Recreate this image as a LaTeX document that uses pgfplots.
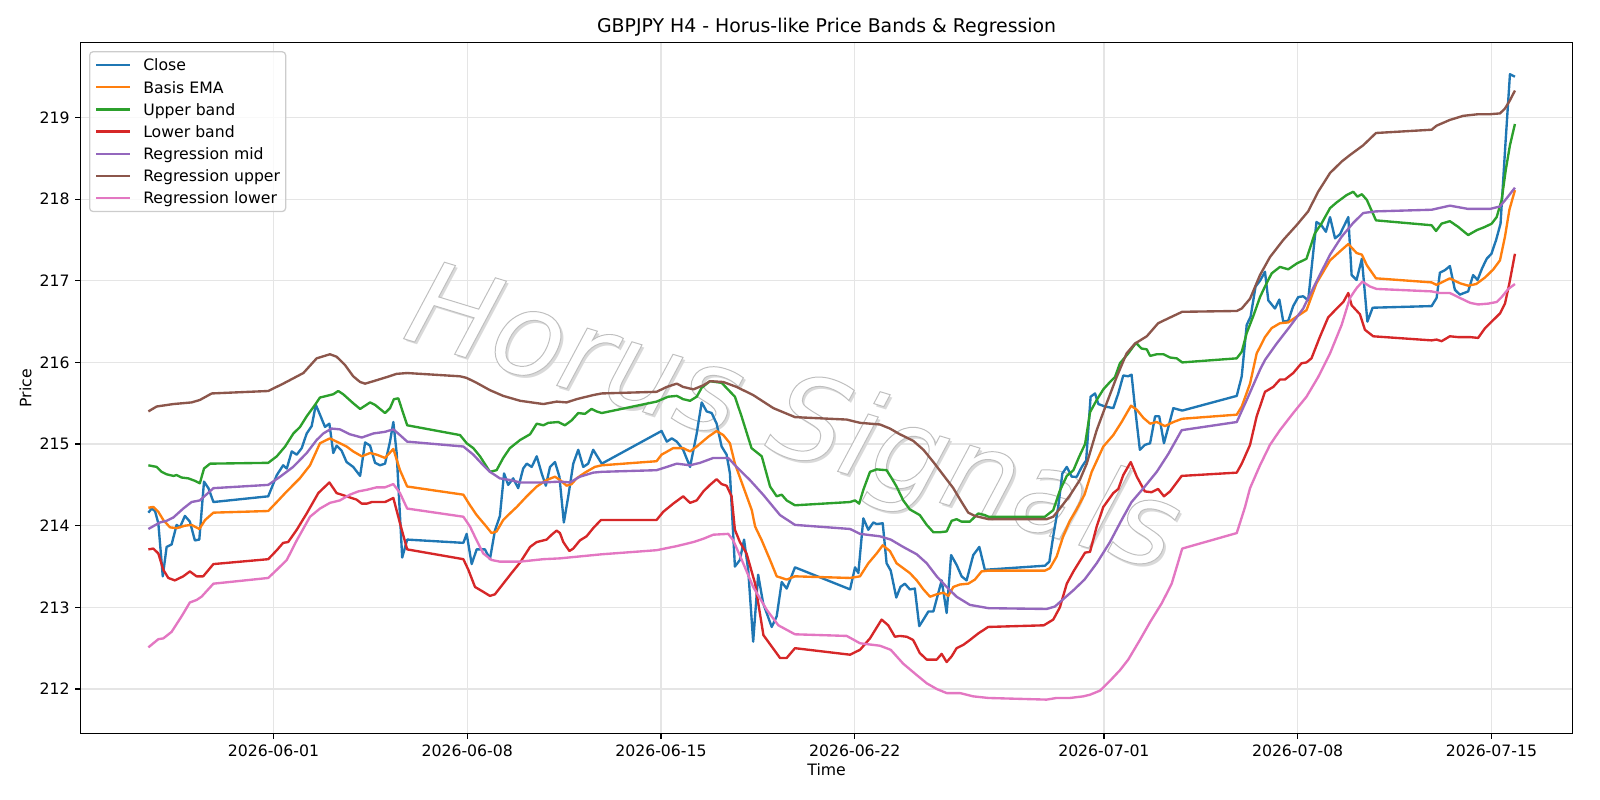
\documentclass[border=0pt]{standalone}
\usepackage{fontspec}
\setmainfont{DejaVu Sans}
\usepackage{pgfplots}
\pgfplotsset{compat=1.18}

\definecolor{cClose}{HTML}{1F77B4}
\definecolor{cEMA}{HTML}{FF7F0E}
\definecolor{cUpper}{HTML}{2CA02C}
\definecolor{cLower}{HTML}{D62728}
\definecolor{cRMid}{HTML}{9467BD}
\definecolor{cRUp}{HTML}{8C564B}
\definecolor{cRLow}{HTML}{E377C2}

% outlined glyphs: fill with the text colour, stroke in grey
\newcommand{\outlined}[1]{\special{pdf:literal direct 2 Tr 0.7 w 0.75 G}#1\special{pdf:literal direct 0 Tr}}

\begin{document}
\begin{tikzpicture}
\useasboundingbox (-58.1pt,-48.0pt) rectangle (1093.9pt,528.0pt);
\begin{axis}[
  at={(0pt,0pt)}, anchor=south west,
  scale only axis, width=1074.1pt, height=497.2pt,
  xmin=-6.965, xmax=46.93, ymin=211.457, ymax=219.915,
  xtick={0,7,14,21,30,37,44},
  xticklabels={2026-06-01,2026-06-08,2026-06-15,2026-06-22,2026-07-01,2026-07-08,2026-07-15},
  ytick={212,213,214,215,216,217,218,219},
  yticklabels={212,213,214,215,216,217,218,219},
  tick pos=left, tick align=outside, major tick length=4pt,
  tick style={black, line width=0.9pt},
  axis line style={line width=0.9pt},
  grid=major, grid style={black!10, line width=0.9pt},
  ticklabel style={font=\fontsize{11.3}{13.5}\selectfont},
  xticklabel style={anchor=north, inner sep=0pt, yshift=-4.2pt},
  yticklabel style={anchor=east, inner sep=0pt, xshift=-3.8pt},
  xlabel={Time}, ylabel={Price},
  label style={font=\fontsize{11.3}{13.5}\selectfont, inner sep=0pt},
  xlabel style={at={(axis description cs:0.5,-0.0531)}, anchor=center},
  ylabel style={at={(axis description cs:-0.0370,0.5)}, anchor=center},
  title={GBPJPY H4 - Horus-like Price Bands \& Regression},
  title style={font=\fontsize{13.6}{16}\selectfont, at={(axis description cs:0.5,1)}, anchor=base, yshift=1.1pt, inner sep=0pt},
  legend cell align=left,
  legend style={at={(axis description cs:0,1)}, anchor=north west, xshift=6pt, yshift=-6pt,
    draw=black!20, line width=0.9pt, rounded corners=2.5pt, fill=white, fill opacity=0.8, text opacity=1,
    inner xsep=4pt, inner ysep=4.75pt, row sep=6.16pt, column sep=8.4pt,
    font=\fontsize{11.3}{13.5}\selectfont,
    nodes={inner sep=0pt, text height=9pt, text depth=0.8pt}},
  legend image code/.code={\draw[#1, line width=1.7pt] (0pt,0pt) -- (24.5pt,0pt);},
  every axis plot/.append style={line width=1.7pt, line join=round},
]

% watermark: soft shadow, then outlined lettering
\node[xshift=2.1pt, yshift=-2.1pt, rotate=-17, text=black!15, font=\fontsize{84}{84}\selectfont\itshape, inner sep=0pt]
  at (axis cs:18.72,215.25) {Horus Signals};
\node[rotate=-17, text=white, font=\fontsize{84}{84}\selectfont\itshape, inner sep=0pt]
  at (axis cs:18.72,215.25) {\outlined{Horus Signals}};

\addplot[cClose] coordinates {
(-4.52,214.16) (-4.40,214.21) (-4.28,214.18) (-4.16,214.03) (-4.00,213.38) (-3.86,213.74) (-3.68,213.77) (-3.50,214.01) (-3.38,213.98) (-3.20,214.12) (-3.02,214.05) (-2.84,213.82) (-2.68,213.83) (-2.51,214.54) (-2.35,214.46) (-2.17,214.29) (-0.19,214.36) (0.12,214.62) (0.35,214.74) (0.48,214.70) (0.66,214.91) (0.84,214.87) (1.02,214.95) (1.20,215.13) (1.38,215.22) (1.53,215.48) (1.68,215.36) (1.86,215.21) (2.02,215.25) (2.16,214.89) (2.28,214.98) (2.46,214.92) (2.64,214.78) (2.88,214.72) (3.13,214.61) (3.31,215.02) (3.49,214.98) (3.67,214.77) (3.85,214.74) (4.03,214.76) (4.21,215.03) (4.33,215.27) (4.45,214.89) (4.65,213.61) (4.83,213.83) (6.86,213.79) (6.98,213.90) (7.16,213.53) (7.34,213.71) (7.64,213.71) (7.82,213.59) (8.00,213.94) (8.18,214.12) (8.33,214.64) (8.48,214.50) (8.66,214.58) (8.84,214.46) (9.02,214.70) (9.15,214.76) (9.33,214.72) (9.51,214.85) (9.69,214.64) (9.84,214.49) (9.99,214.72) (10.17,214.78) (10.33,214.60) (10.49,214.04) (10.65,214.36) (10.83,214.76) (11.01,214.93) (11.19,214.72) (11.37,214.76) (11.55,214.93) (11.86,214.76) (14.02,215.16) (14.21,215.03) (14.39,215.07) (14.57,215.03) (14.80,214.93) (15.05,214.72) (15.29,215.13) (15.47,215.51) (15.65,215.40) (15.83,215.38) (16.01,215.25) (16.19,214.97) (16.37,214.87) (16.49,214.64) (16.67,213.50) (16.85,213.58) (17.00,213.83) (17.15,213.46) (17.33,212.58) (17.51,213.40) (17.69,213.05) (18.00,212.76) (18.18,212.89) (18.36,213.31) (18.54,213.23) (18.84,213.49) (20.83,213.22) (21.01,213.49) (21.13,213.42) (21.31,214.09) (21.49,213.95) (21.67,214.04) (21.79,214.02) (22.01,214.03) (22.15,213.54) (22.30,213.45) (22.50,213.12) (22.65,213.25) (22.81,213.29) (22.99,213.22) (23.17,213.23) (23.33,212.77) (23.48,212.85) (23.66,212.95) (23.84,212.95) (24.14,213.33) (24.32,212.93) (24.48,213.64) (24.68,213.52) (24.86,213.38) (25.04,213.33) (25.28,213.64) (25.50,213.74) (25.70,213.46) (27.87,213.51) (28.03,213.56) (28.17,213.87) (28.35,214.23) (28.50,214.64) (28.66,214.72) (28.84,214.60) (29.02,214.60) (29.20,214.72) (29.36,214.80) (29.52,215.58) (29.68,215.62) (29.80,215.49) (30.04,215.46) (30.34,215.44) (30.52,215.62) (30.70,215.84) (30.88,215.83) (31.00,215.85) (31.12,215.46) (31.30,214.93) (31.48,214.99) (31.67,215.01) (31.85,215.34) (32.00,215.34) (32.17,215.01) (32.33,215.21) (32.51,215.44) (32.83,215.41) (34.80,215.59) (34.98,215.83) (35.16,216.46) (35.30,216.56) (35.48,216.93) (35.64,217.00) (35.82,217.11) (35.94,216.76) (36.18,216.66) (36.34,216.77) (36.48,216.50) (36.66,216.51) (36.84,216.69) (37.02,216.80) (37.20,216.81) (37.38,216.76) (37.68,217.72) (37.86,217.68) (38.02,217.60) (38.17,217.78) (38.35,217.52) (38.53,217.57) (38.83,217.78) (38.95,217.07) (39.13,217.01) (39.32,217.27) (39.52,216.50) (39.71,216.67) (41.84,216.69) (42.02,216.79) (42.14,217.10) (42.32,217.13) (42.50,217.18) (42.68,216.89) (42.86,216.83) (43.16,216.87) (43.34,217.07) (43.50,217.01) (43.66,217.15) (43.83,217.27) (44.00,217.33) (44.17,217.50) (44.33,217.70) (44.50,218.64) (44.67,219.53) (44.85,219.50)
};
\addlegendentry{Close}

\addplot[cEMA] coordinates {
(-4.52,214.22) (-4.34,214.23) (-4.16,214.17) (-3.98,214.07) (-3.74,213.98) (-3.50,213.97) (-3.20,214.00) (-2.96,214.01) (-2.68,213.96) (-2.47,214.07) (-2.17,214.16) (-0.19,214.18) (0.12,214.29) (0.48,214.42) (0.95,214.58) (1.32,214.74) (1.68,215.01) (2.04,215.07) (2.28,215.03) (2.64,214.97) (2.88,214.91) (3.19,214.85) (3.49,214.89) (3.73,214.87) (4.03,214.83) (4.33,214.94) (4.57,214.68) (4.83,214.48) (6.86,214.38) (7.10,214.25) (7.34,214.13) (7.64,214.01) (7.88,213.91) (8.06,213.93) (8.30,214.07) (8.54,214.15) (8.79,214.23) (9.15,214.36) (9.51,214.48) (9.87,214.56) (10.17,214.60) (10.35,214.56) (10.59,214.49) (10.77,214.51) (10.95,214.58) (11.25,214.65) (11.61,214.72) (11.86,214.74) (13.84,214.79) (14.02,214.87) (14.44,214.95) (14.80,214.95) (15.05,214.91) (15.29,214.97) (15.50,215.03) (15.71,215.09) (16.01,215.16) (16.25,215.11) (16.49,215.01) (16.67,214.76) (16.97,214.48) (17.28,214.19) (17.40,213.99) (17.64,213.82) (17.94,213.58) (18.18,213.38) (18.54,213.34) (18.84,213.38) (20.83,213.36) (21.19,213.38) (21.49,213.54) (21.79,213.66) (22.01,213.76) (22.27,213.69) (22.51,213.54) (22.75,213.48) (22.99,213.42) (23.24,213.33) (23.48,213.22) (23.72,213.13) (23.96,213.16) (24.20,213.18) (24.38,213.14) (24.56,213.25) (24.80,213.28) (25.10,213.29) (25.34,213.34) (25.58,213.44) (25.83,213.45) (27.87,213.45) (28.05,213.48) (28.29,213.62) (28.53,213.87) (28.77,214.06) (29.00,214.19) (29.30,214.38) (29.56,214.66) (29.98,214.97) (30.34,215.11) (30.64,215.27) (30.98,215.47) (31.19,215.42) (31.43,215.32) (31.67,215.25) (31.91,215.27) (32.21,215.22) (32.51,215.27) (32.83,215.31) (34.80,215.36) (34.98,215.46) (35.28,215.74) (35.52,216.11) (35.82,216.31) (36.06,216.42) (36.36,216.48) (36.66,216.49) (36.96,216.56) (37.32,216.64) (37.68,216.97) (38.17,217.25) (38.53,217.36) (38.83,217.45) (39.13,217.34) (39.32,217.32) (39.50,217.19) (39.83,217.03) (41.84,216.98) (42.02,216.95) (42.26,216.99) (42.50,217.03) (42.86,216.97) (43.16,216.94) (43.45,216.96) (43.77,217.04) (44.07,217.14) (44.31,217.25) (44.49,217.54) (44.65,217.87) (44.85,218.11)
};
\addlegendentry{Basis EMA}

\addplot[cUpper] coordinates {
(-4.52,214.74) (-4.22,214.72) (-4.04,214.66) (-3.86,214.63) (-3.62,214.61) (-3.50,214.62) (-3.32,214.59) (-3.08,214.58) (-2.84,214.55) (-2.66,214.52) (-2.51,214.70) (-2.29,214.76) (-0.19,214.77) (0.12,214.85) (0.42,214.97) (0.72,215.13) (0.96,215.21) (1.20,215.34) (1.50,215.48) (1.68,215.57) (2.04,215.60) (2.16,215.61) (2.34,215.65) (2.52,215.61) (2.88,215.50) (3.13,215.43) (3.49,215.51) (3.67,215.48) (4.03,215.38) (4.21,215.44) (4.35,215.55) (4.51,215.56) (4.83,215.23) (6.74,215.11) (6.98,215.01) (7.22,214.95) (7.46,214.85) (7.82,214.66) (8.06,214.68) (8.30,214.83) (8.54,214.95) (8.91,215.05) (9.27,215.12) (9.51,215.25) (9.75,215.23) (9.93,215.26) (10.29,215.27) (10.53,215.23) (10.77,215.29) (11.01,215.38) (11.25,215.37) (11.49,215.43) (11.67,215.40) (11.86,215.38) (13.84,215.52) (14.26,215.58) (14.57,215.59) (14.80,215.55) (15.05,215.53) (15.29,215.58) (15.47,215.69) (15.77,215.77) (16.19,215.75) (16.67,215.58) (16.91,215.34) (17.27,214.95) (17.64,214.85) (17.94,214.48) (18.18,214.36) (18.36,214.38) (18.54,214.31) (18.84,214.25) (20.83,214.29) (21.01,214.31) (21.16,214.27) (21.31,214.44) (21.55,214.66) (21.79,214.69) (22.15,214.68) (22.30,214.60) (22.51,214.48) (22.75,214.31) (22.99,214.20) (23.35,214.13) (23.60,214.01) (23.84,213.92) (24.08,213.92) (24.32,213.93) (24.50,214.06) (24.68,214.08) (24.86,214.05) (25.16,214.05) (25.46,214.15) (25.70,214.13) (25.83,214.11) (27.87,214.11) (28.17,214.19) (28.41,214.43) (28.66,214.61) (28.90,214.68) (29.10,214.84) (29.32,215.00) (29.50,215.39) (29.74,215.54) (29.98,215.67) (30.22,215.76) (30.40,215.82) (30.58,215.99) (30.88,216.11) (31.16,216.24) (31.36,216.17) (31.55,216.16) (31.67,216.08) (31.91,216.10) (32.15,216.10) (32.39,216.06) (32.63,216.05) (32.83,216.00) (34.80,216.05) (34.98,216.13) (35.16,216.36) (35.40,216.57) (35.64,216.80) (35.82,216.93) (36.06,217.09) (36.36,217.17) (36.66,217.14) (36.96,217.21) (37.32,217.27) (37.62,217.58) (37.86,217.70) (38.17,217.89) (38.41,217.96) (38.77,218.05) (39.01,218.09) (39.16,218.03) (39.32,218.06) (39.50,217.99) (39.83,217.74) (41.84,217.68) (42.00,217.61) (42.20,217.70) (42.50,217.73) (42.80,217.66) (43.16,217.56) (43.47,217.62) (43.77,217.66) (44.01,217.70) (44.19,217.78) (44.37,217.99) (44.52,218.36) (44.67,218.66) (44.85,218.92)
};
\addlegendentry{Upper band}

\addplot[cLower] coordinates {
(-4.52,213.71) (-4.34,213.72) (-4.16,213.66) (-3.98,213.46) (-3.80,213.36) (-3.56,213.33) (-3.26,213.38) (-3.02,213.44) (-2.78,213.38) (-2.54,213.38) (-2.17,213.53) (-0.19,213.59) (0.12,213.70) (0.35,213.79) (0.53,213.80) (0.84,213.95) (1.20,214.15) (1.62,214.40) (2.02,214.53) (2.28,214.40) (2.64,214.36) (3.00,214.32) (3.19,214.27) (3.37,214.27) (3.55,214.29) (4.03,214.29) (4.33,214.34) (4.57,214.03) (4.83,213.71) (6.86,213.59) (7.04,213.46) (7.28,213.25) (7.58,213.19) (7.82,213.14) (8.00,213.16) (8.30,213.29) (8.60,213.42) (8.91,213.55) (9.27,213.74) (9.51,213.80) (9.87,213.83) (10.05,213.89) (10.23,213.94) (10.35,213.91) (10.47,213.80) (10.69,213.69) (10.83,213.72) (11.07,213.82) (11.31,213.87) (11.55,213.97) (11.83,214.07) (13.84,214.07) (14.08,214.17) (14.44,214.27) (14.80,214.36) (15.05,214.28) (15.29,214.31) (15.53,214.42) (15.77,214.50) (16.01,214.57) (16.19,214.51) (16.37,214.49) (16.55,214.36) (16.67,213.95) (16.85,213.80) (17.09,213.66) (17.40,213.29) (17.70,212.66) (18.00,212.52) (18.30,212.38) (18.54,212.38) (18.84,212.50) (20.83,212.42) (21.19,212.48) (21.55,212.62) (21.97,212.85) (22.21,212.78) (22.45,212.64) (22.63,212.65) (22.88,212.64) (23.11,212.60) (23.35,212.44) (23.60,212.36) (23.96,212.36) (24.14,212.43) (24.32,212.33) (24.50,212.40) (24.68,212.50) (24.92,212.54) (25.16,212.60) (25.46,212.68) (25.82,212.76) (27.83,212.78) (28.17,212.85) (28.41,213.00) (28.66,213.29) (28.90,213.44) (29.10,213.55) (29.32,213.67) (29.50,213.68) (29.74,213.99) (29.98,214.23) (30.34,214.40) (30.52,214.45) (30.70,214.62) (30.97,214.78) (31.19,214.60) (31.48,214.42) (31.72,214.41) (31.96,214.45) (32.17,214.36) (32.39,214.42) (32.81,214.61) (34.80,214.65) (34.98,214.76) (35.28,214.99) (35.52,215.34) (35.82,215.64) (36.12,215.70) (36.36,215.79) (36.54,215.79) (36.84,215.87) (37.14,215.99) (37.32,216.00) (37.50,216.05) (37.80,216.31) (38.10,216.55) (38.41,216.66) (38.65,216.74) (38.83,216.85) (38.95,216.70) (39.25,216.59) (39.43,216.40) (39.73,216.32) (41.84,216.27) (42.02,216.28) (42.20,216.26) (42.50,216.32) (42.80,216.31) (43.23,216.31) (43.52,216.30) (43.77,216.42) (44.07,216.52) (44.31,216.60) (44.49,216.72) (44.65,216.97) (44.85,217.33)
};
\addlegendentry{Lower band}

\addplot[cRMid] coordinates {
(-4.52,213.96) (-4.10,214.04) (-3.86,214.06) (-3.62,214.10) (-3.26,214.21) (-2.96,214.29) (-2.66,214.31) (-2.17,214.46) (-0.19,214.50) (0.24,214.60) (0.71,214.72) (1.20,214.89) (1.56,215.05) (1.80,215.13) (2.10,215.19) (2.40,215.18) (2.76,215.12) (3.19,215.08) (3.61,215.13) (4.03,215.15) (4.33,215.18) (4.57,215.11) (4.83,215.03) (6.86,214.97) (7.22,214.87) (7.58,214.74) (7.82,214.66) (8.18,214.58) (8.54,214.56) (8.91,214.53) (9.75,214.53) (10.35,214.54) (10.71,214.53) (11.07,214.60) (11.55,214.65) (11.86,214.66) (13.84,214.68) (14.21,214.72) (14.57,214.76) (15.05,214.74) (15.41,214.77) (15.89,214.83) (16.43,214.83) (16.73,214.72) (17.21,214.56) (17.69,214.38) (18.30,214.13) (18.84,214.01) (20.83,213.96) (21.19,213.90) (21.91,213.87) (22.30,213.83) (22.75,213.74) (23.24,213.65) (23.60,213.54) (23.96,213.38) (24.32,213.25) (24.68,213.13) (25.16,213.03) (25.83,212.99) (27.93,212.98) (28.23,213.01) (28.53,213.10) (28.90,213.21) (29.30,213.34) (29.74,213.54) (30.22,213.80) (30.64,214.07) (31.00,214.29) (31.43,214.46) (31.91,214.66) (32.33,214.88) (32.81,215.17) (34.80,215.27) (35.16,215.54) (35.64,215.91) (35.82,216.03) (36.24,216.23) (36.72,216.44) (37.20,216.66) (37.68,216.99) (38.17,217.32) (38.59,217.54) (39.01,217.71) (39.37,217.83) (39.83,217.85) (41.84,217.87) (42.50,217.92) (43.16,217.88) (43.95,217.88) (44.31,217.91) (44.55,218.01) (44.85,218.14)
};
\addlegendentry{Regression mid}

\addplot[cRUp] coordinates {
(-4.52,215.40) (-4.22,215.46) (-3.62,215.49) (-2.96,215.51) (-2.66,215.54) (-2.23,215.62) (-0.19,215.65) (0.35,215.74) (1.08,215.87) (1.56,216.05) (2.04,216.10) (2.28,216.07) (2.58,215.97) (2.88,215.83) (3.13,215.76) (3.31,215.74) (3.61,215.77) (4.09,215.82) (4.45,215.86) (4.83,215.87) (6.74,215.83) (6.98,215.81) (7.34,215.75) (7.82,215.66) (8.30,215.59) (8.91,215.53) (9.75,215.49) (10.23,215.52) (10.59,215.51) (10.95,215.55) (11.55,215.60) (11.86,215.62) (13.84,215.64) (14.21,215.70) (14.57,215.74) (14.80,215.70) (15.17,215.67) (15.53,215.72) (15.77,215.77) (16.25,215.76) (16.73,215.70) (17.33,215.60) (18.06,215.44) (18.84,215.33) (20.71,215.30) (21.19,215.26) (21.91,215.24) (22.27,215.19) (22.63,215.12) (23.11,215.04) (23.48,214.93) (23.84,214.78) (24.20,214.62) (24.56,214.46) (24.86,214.29) (25.10,214.16) (25.34,214.12) (25.83,214.08) (27.93,214.08) (28.17,214.11) (28.41,214.21) (28.77,214.37) (29.13,214.56) (29.38,214.76) (29.74,215.17) (30.10,215.50) (30.46,215.82) (30.82,216.11) (31.12,216.23) (31.55,216.32) (31.96,216.48) (32.39,216.55) (32.83,216.62) (34.80,216.63) (34.98,216.66) (35.28,216.78) (35.64,217.07) (36.00,217.29) (36.48,217.50) (36.96,217.68) (37.38,217.85) (37.74,218.09) (38.17,218.32) (38.59,218.46) (38.89,218.54) (39.37,218.66) (39.83,218.81) (41.84,218.85) (42.02,218.90) (42.50,218.97) (42.98,219.02) (43.52,219.04) (43.95,219.04) (44.31,219.05) (44.49,219.11) (44.67,219.21) (44.85,219.33)
};
\addlegendentry{Regression upper}

\addplot[cRLow] coordinates {
(-4.52,212.51) (-4.16,212.61) (-3.98,212.62) (-3.68,212.70) (-3.32,212.89) (-3.02,213.06) (-2.78,213.09) (-2.60,213.13) (-2.17,213.29) (-0.19,213.36) (0.12,213.46) (0.48,213.58) (0.84,213.82) (1.32,214.11) (1.68,214.21) (2.04,214.28) (2.40,214.31) (2.76,214.38) (3.06,214.42) (3.37,214.44) (3.73,214.47) (4.03,214.47) (4.33,214.51) (4.57,214.40) (4.83,214.21) (6.86,214.11) (7.10,213.99) (7.34,213.82) (7.58,213.66) (7.88,213.58) (8.18,213.56) (8.91,213.56) (9.75,213.59) (10.35,213.60) (10.95,213.62) (11.86,213.65) (13.84,213.70) (14.57,213.75) (15.17,213.80) (15.53,213.84) (15.89,213.89) (16.43,213.90) (16.61,213.82) (16.97,213.54) (17.33,213.25) (17.82,212.97) (18.24,212.78) (18.84,212.67) (20.71,212.65) (21.19,212.56) (21.91,212.53) (22.30,212.48) (22.75,212.31) (23.24,212.17) (23.60,212.07) (23.96,212.00) (24.32,211.95) (24.80,211.95) (25.28,211.91) (25.83,211.89) (27.93,211.87) (28.29,211.89) (28.77,211.89) (29.26,211.91) (29.50,211.93) (29.86,211.98) (30.22,212.10) (30.58,212.23) (30.88,212.36) (31.30,212.60) (31.67,212.82) (32.09,213.05) (32.45,213.29) (32.83,213.72) (34.80,213.91) (35.10,214.23) (35.28,214.46) (35.64,214.74) (36.00,214.99) (36.36,215.17) (36.84,215.38) (37.32,215.58) (37.74,215.82) (38.17,216.11) (38.59,216.46) (38.89,216.79) (39.13,216.91) (39.34,216.99) (39.61,216.93) (39.85,216.90) (41.84,216.87) (42.14,216.85) (42.50,216.85) (42.86,216.79) (43.23,216.73) (43.52,216.71) (43.88,216.72) (44.19,216.74) (44.37,216.80) (44.61,216.90) (44.85,216.96)
};
\addlegendentry{Regression lower}

\end{axis}
\end{tikzpicture}
\end{document}
